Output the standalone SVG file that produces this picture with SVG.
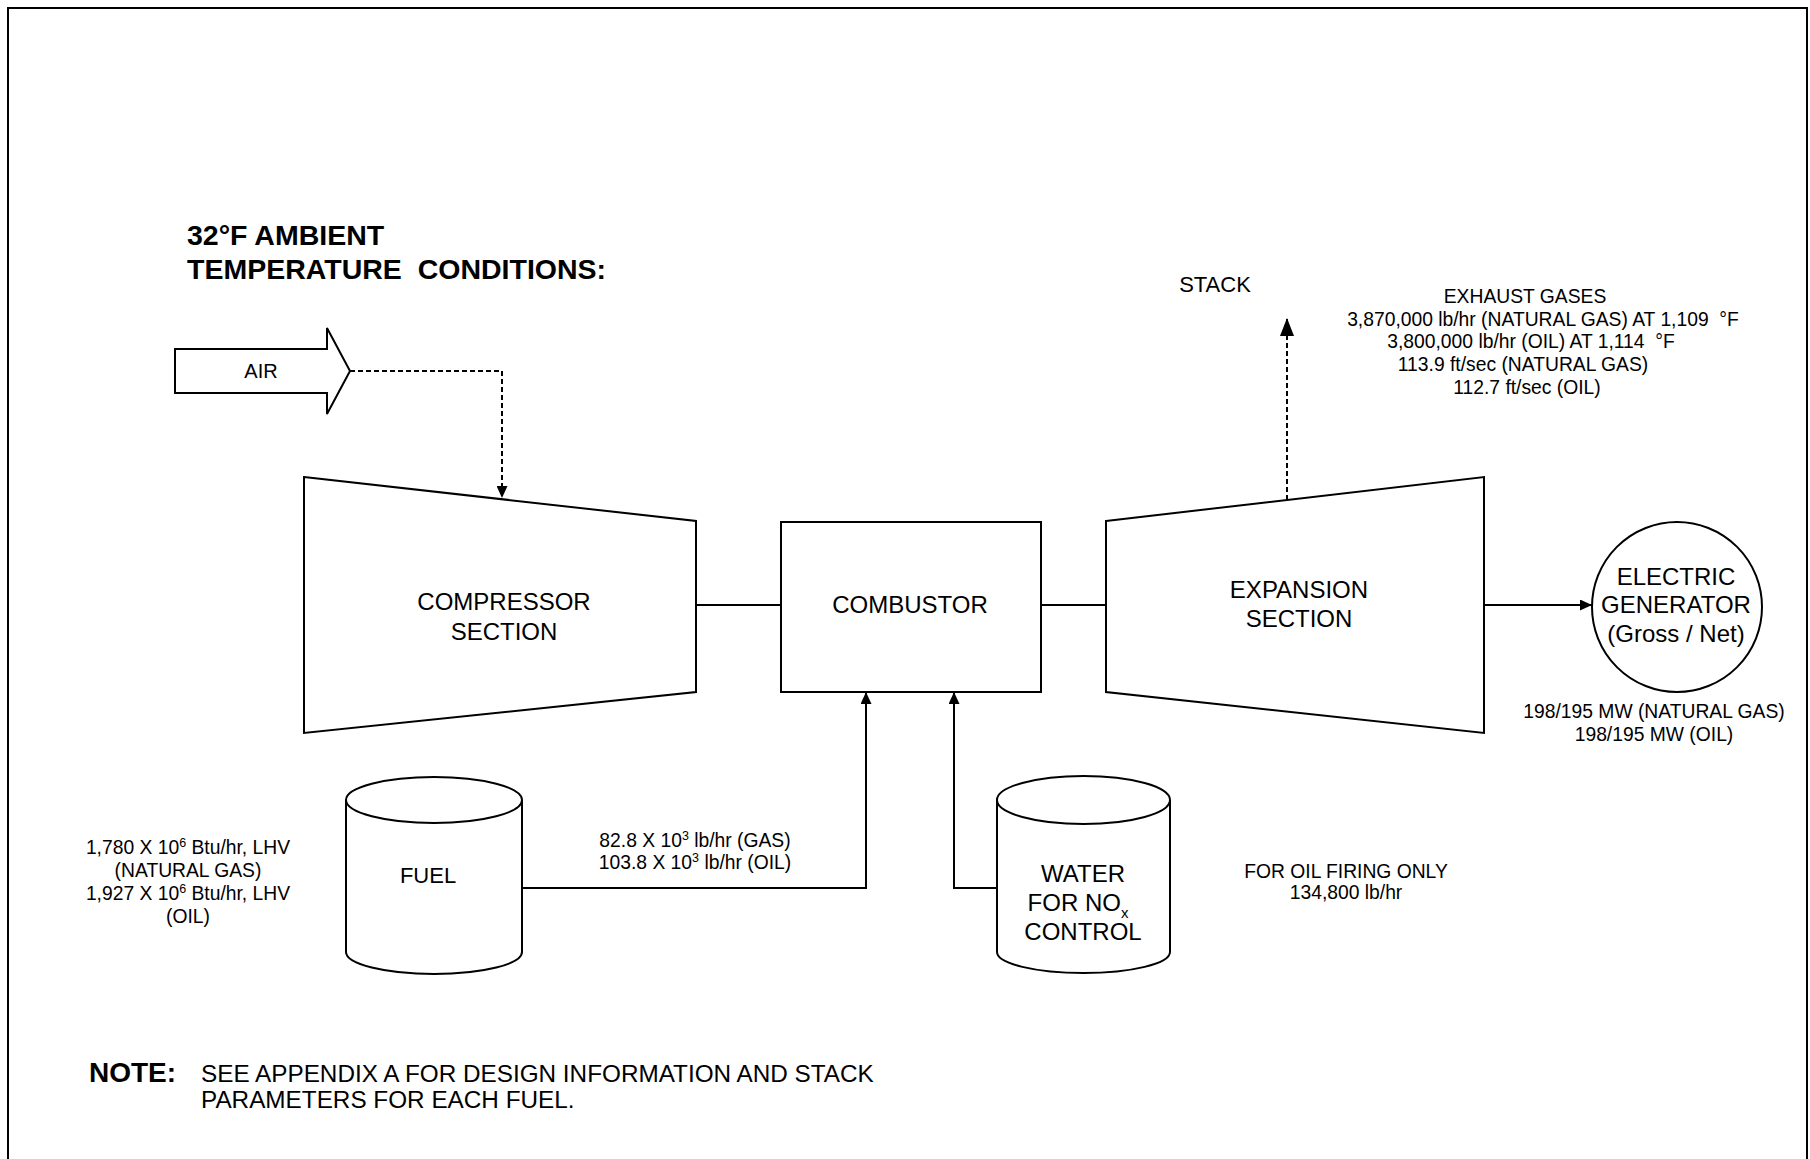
<svg xmlns="http://www.w3.org/2000/svg" width="1810" height="1159" viewBox="0 0 1810 1159">
  <defs>
    <style>
      .ln { fill: none; stroke: #000; stroke-width: 2; }
      .dash { fill: none; stroke: #000; stroke-width: 2; stroke-dasharray: 5 3; }
      .shape { fill: #fff; stroke: #000; stroke-width: 2; }
      text { font-family: "Liberation Sans", Arial, Helvetica, sans-serif; fill: #000; }
      .big { font-size: 24px; text-anchor: middle; }
      .sm { font-size: 19.3px; text-anchor: middle; }
      .title { font-size: 28.5px; font-weight: bold; white-space: pre; }
      .note { font-size: 24.3px; }
    </style>
    <marker id="ah" markerUnits="userSpaceOnUse" markerWidth="12" markerHeight="11" refX="12" refY="5.5" orient="auto">
      <path d="M0,0 L12,5.5 L0,11 Z" fill="#000"/>
    </marker>
    <marker id="ahBig" markerUnits="userSpaceOnUse" markerWidth="18" markerHeight="14" refX="18" refY="7" orient="auto">
      <path d="M0,0 L18,7 L0,14 Z" fill="#000"/>
    </marker>
  </defs>

  <rect width="1810" height="1159" fill="#fff"/>

  <!-- sheet border (top, left, right) -->
  <g id="border">
    <path class="ln" d="M8,1159 V8 H1807 V1159" stroke-width="2.5"/>
  </g>

  <!-- heading -->
  <g id="heading">
    <text class="title" x="187" y="245">32°F AMBIENT</text>
    <text class="title" x="187" y="279">TEMPERATURE  CONDITIONS:</text>
  </g>

  <!-- connectors -->
  <g id="connectors">
    <path class="dash" d="M350,371 H502 V498" marker-end="url(#ah)"/>
    <path class="ln" d="M696,605 H781"/>
    <path class="ln" d="M1041,605 H1106"/>
    <path class="ln" d="M1484,605 H1592" marker-end="url(#ah)"/>
    <path class="dash" d="M1287,500 V318" marker-end="url(#ahBig)"/>
    <path class="ln" d="M522,888 H866 V692" marker-end="url(#ah)"/>
    <path class="ln" d="M997,888 H954 V692" marker-end="url(#ah)"/>
  </g>

  <!-- air inlet arrow -->
  <g id="air">
    <path class="shape" d="M175,349 H327 V328 L350,371 L327,414 V393 H175 Z"/>
    <text x="261" y="378" style="font-size:20px;text-anchor:middle">AIR</text>
  </g>

  <g id="compressor">
    <path class="shape" d="M304,477 L696,521 L696,692 L304,733 Z"/>
    <text class="big" x="504" y="610">COMPRESSOR</text>
    <text class="big" x="504" y="640">SECTION</text>
  </g>

  <g id="combustor">
    <rect class="shape" x="781" y="522" width="260" height="170"/>
    <text class="big" x="910" y="613">COMBUSTOR</text>
  </g>

  <g id="expansion">
    <path class="shape" d="M1106,521 L1484,477 L1484,733 L1106,692 Z"/>
    <text class="big" x="1299" y="598">EXPANSION</text>
    <text class="big" x="1299" y="627">SECTION</text>
  </g>

  <g id="generator">
    <circle class="shape" cx="1677" cy="607" r="85"/>
    <text class="big" x="1676" y="585">ELECTRIC</text>
    <text class="big" x="1676" y="613">GENERATOR</text>
    <text class="big" x="1676" y="642">(Gross / Net)</text>
    <text class="sm" x="1654" y="718">198/195 MW (NATURAL GAS)</text>
    <text class="sm" x="1654" y="741">198/195 MW (OIL)</text>
  </g>

  <g id="stack">
    <text x="1215" y="292" style="font-size:22px;text-anchor:middle">STACK</text>
    <text class="sm" x="1525" y="303">EXHAUST GASES</text>
    <text class="sm" x="1543" y="326" xml:space="preserve">3,870,000 lb/hr (NATURAL GAS) AT 1,109  °F</text>
    <text class="sm" x="1531" y="348" xml:space="preserve">3,800,000 lb/hr (OIL) AT 1,114  °F</text>
    <text class="sm" x="1523" y="371">113.9 ft/sec (NATURAL GAS)</text>
    <text class="sm" x="1527" y="394">112.7 ft/sec (OIL)</text>
  </g>

  <g id="fuel">
    <path class="shape" d="M346,800 V952 A88,22 0 0 0 522,952 V800"/>
    <ellipse class="shape" cx="434" cy="800" rx="88" ry="23"/>
    <text x="428" y="883" style="font-size:22px;text-anchor:middle">FUEL</text>
    <text class="sm" x="188" y="854">1,780 X 10<tspan font-size="12.5" dy="-7">6</tspan><tspan dy="7"> Btu/hr, LHV</tspan></text>
    <text class="sm" x="188" y="877">(NATURAL GAS)</text>
    <text class="sm" x="188" y="900">1,927 X 10<tspan font-size="12.5" dy="-7">6</tspan><tspan dy="7"> Btu/hr, LHV</tspan></text>
    <text class="sm" x="188" y="923">(OIL)</text>
    <text class="sm" x="695" y="847">82.8 X 10<tspan font-size="12.5" dy="-7">3</tspan><tspan dy="7"> lb/hr (GAS)</tspan></text>
    <text class="sm" x="695" y="869">103.8 X 10<tspan font-size="12.5" dy="-7">3</tspan><tspan dy="7"> lb/hr (OIL)</tspan></text>
  </g>

  <g id="water">
    <path class="shape" d="M997,800 V952 A86.5,21 0 0 0 1170,952 V800"/>
    <ellipse class="shape" cx="1083.5" cy="800" rx="86.5" ry="24"/>
    <text class="big" x="1083" y="882">WATER</text>
    <text class="big" x="1078" y="911">FOR NO<tspan font-size="15" dy="7">x</tspan></text>
    <text class="big" x="1083" y="940">CONTROL</text>
    <text class="sm" x="1346" y="878">FOR OIL FIRING ONLY</text>
    <text class="sm" x="1346" y="899">134,800 lb/hr</text>
  </g>

  <g id="note">
    <text x="89" y="1082" style="font-size:28px;font-weight:bold">NOTE:</text>
    <text class="note" x="201" y="1082">SEE APPENDIX A FOR DESIGN INFORMATION AND STACK</text>
    <text class="note" x="201" y="1108">PARAMETERS FOR EACH FUEL.</text>
  </g>
</svg>
